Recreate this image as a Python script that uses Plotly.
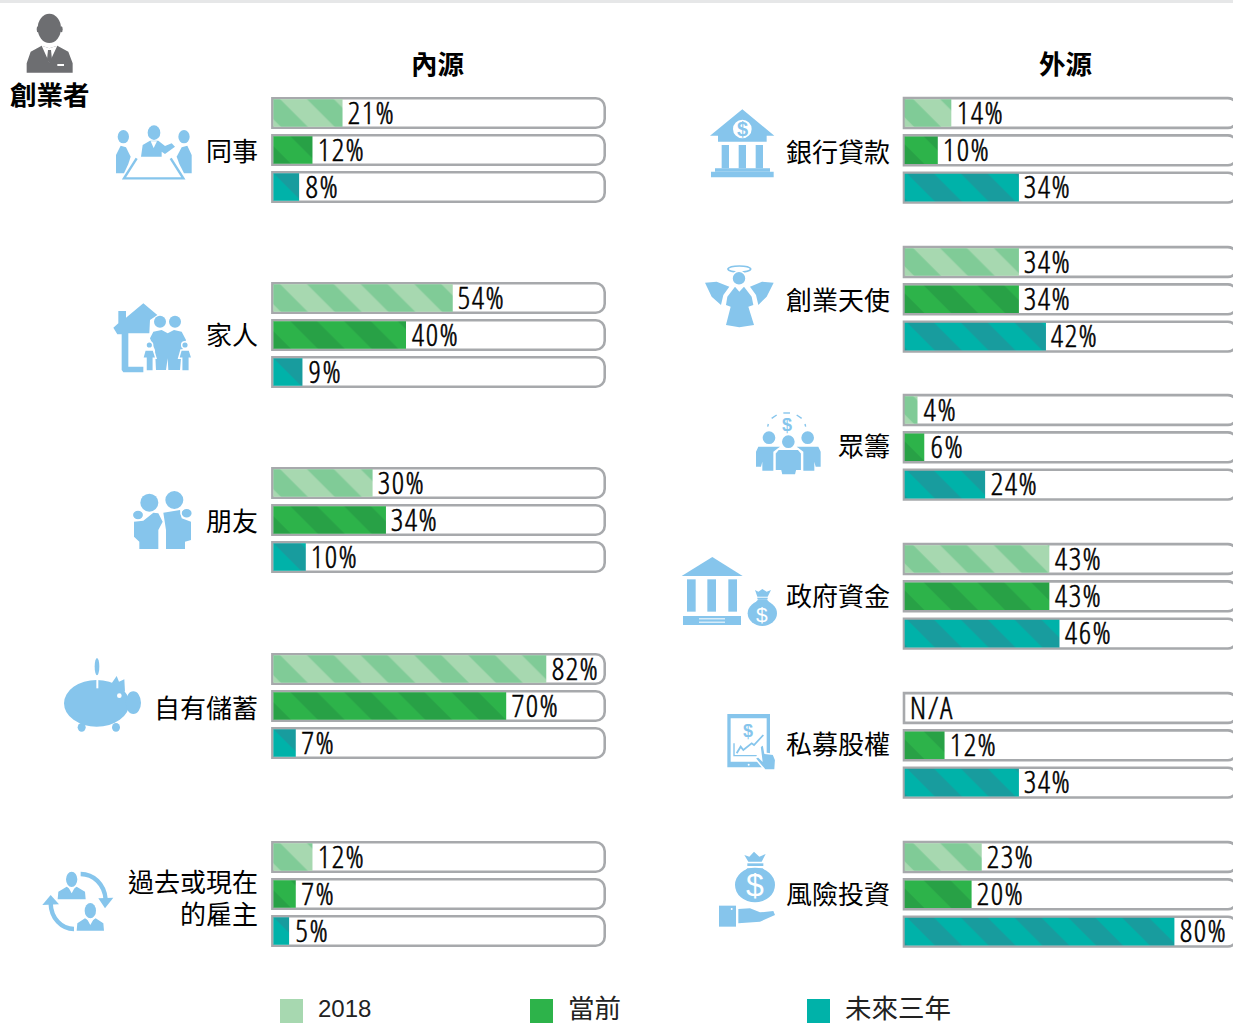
import plotly.graph_objects as go

W, H = 1233, 1023

SERIES = ["2018", "當前", "未來三年"]
LEFT_GROUPS = ["同事", "家人", "朋友", "自有儲蓄", "過去或現在<br>的雇主"]
LEFT_2018 = [21, 54, 30, 82, 12]
LEFT_NOW = [12, 40, 34, 70, 7]
LEFT_FUTURE = [8, 9, 10, 7, 5]
RIGHT_GROUPS = ["銀行貸款", "創業天使", "眾籌", "政府資金", "私募股權", "風險投資"]
RIGHT_2018 = [14, 34, 4, 43, None, 23]
RIGHT_NOW = [10, 34, 6, 43, 12, 20]
RIGHT_FUTURE = [34, 42, 24, 46, 34, 80]

BG = ["#a7d8b0", "#2db34a", "#00b2a9"]
FG = ["#80cb97", "#28a146", "#189c9e"]
TRACK = "#a7a9ac"
BLUE = "#86c5ec"
GREY = "#6d6e71"
CJK = "Liberation Sans, Noto Sans CJK TC"
VALUE_FONT = "Open Sans Condensed Light"

fig = go.Figure()
shapes, annos, layout = [], [], {}


def px(x):
    return x / W


def py(y):
    return 1 - y / H


def conv(ox, oy, pts, s=3.0):
    return [(px(ox + a / s), py(oy + b / s)) for a, b in pts]


def poly(ox, oy, pts, color=BLUE, halo=0, close=True):
    q = conv(ox, oy, pts)
    d = "M" + " L".join(f"{a:.5f},{b:.5f}" for a, b in q) + (" Z" if close else "")
    shapes.append(dict(type="path", xref="paper", yref="paper", path=d, fillcolor=color,
                       line=dict(color="white" if halo else color, width=halo if halo else 0), layer="above"))


def stroke(ox, oy, pts, w=2, color=BLUE, curve=False):
    q = conv(ox, oy, pts)
    if curve:
        d = f"M{q[0][0]:.5f},{q[0][1]:.5f} C" + " ".join(f"{a:.5f},{b:.5f}" for a, b in q[1:])
    else:
        d = "M" + " L".join(f"{a:.5f},{b:.5f}" for a, b in q)
    shapes.append(dict(type="path", xref="paper", yref="paper", path=d,
                       line=dict(color=color, width=w), layer="above"))


def ell(ox, oy, cx, cy, rx, ry=None, color=BLUE, halo=0):
    ry = rx if ry is None else ry
    x0, x1 = ox + (cx - rx) / 3, ox + (cx + rx) / 3
    y0, y1 = oy + (cy - ry) / 3, oy + (cy + ry) / 3
    shapes.append(dict(type="circle", xref="paper", yref="paper", x0=px(x0), x1=px(x1), y0=py(y0), y1=py(y1),
                       fillcolor=color, line=dict(color="white" if halo else color, width=halo if halo else 0),
                       layer="above"))


def rect(ox, oy, x0, y0, x1, y1, color=BLUE):
    poly(ox, oy, [(x0, y0), (x1, y0), (x1, y1), (x0, y1)], color)


def label(x, y, text, size=26, color="black", anchor="center", bold=False, family=CJK):
    annos.append(dict(xref="paper", yref="paper", x=px(x), y=py(y), text=f"<b>{text}</b>" if bold else text,
                      showarrow=False, xanchor=anchor, yanchor="middle", align=anchor if anchor != "center" else "center",
                      font=dict(family=family, size=size, color=color)))


def panel(groups, s18, snow, sfut, tops, pitch, dom_px, x0, scale, bar_base, track_end, name_x, name_ys, start):
    for g, top in enumerate(tops):
        k = start + g
        ax = "" if k == 1 else str(k)
        xa, ya = f"x{ax}", f"y{ax}"
        layout[f"xaxis{ax}"] = dict(domain=[dom_px[0] / W, min(dom_px[1] / W, 1)], anchor=ya, visible=False,
                                    range=[(dom_px[0] - x0) / scale, (dom_px[1] - x0) / scale], fixedrange=True)
        layout[f"yaxis{ax}"] = dict(domain=[py(top + 2.5 * pitch), py(top - 0.5 * pitch)], anchor=xa, visible=False,
                                    type="category", categoryorder="array", categoryarray=SERIES,
                                    range=[2.5, -0.5], fixedrange=True)
        vals = [s18[g], snow[g], sfut[g]]
        fig.add_trace(go.Bar(y=SERIES, x=[track_end] * 3, orientation="h", width=0.8, xaxis=xa, yaxis=ya,
                             marker=dict(color="white", line=dict(color=TRACK, width=2.6), cornerradius=9),
                             showlegend=False, hoverinfo="skip"))
        for i, s in enumerate(SERIES):
            v = vals[i]
            if v is not None:
                fig.add_trace(go.Bar(y=[s], x=[v - bar_base], base=bar_base, orientation="h", width=0.74, xaxis=xa, yaxis=ya,
                                     name=s, showlegend=False,
                                     marker=dict(color=BG[i], line=dict(width=0),
                                                 pattern=dict(shape="\\", size=38, solidity=0.5, fgcolor=FG[i], fgopacity=1))))
            annos.append(dict(xref=xa, yref=ya, x=v or 0, y=i, text="N/A" if v is None else f"{v}%", showarrow=False,
                              xanchor="left", yanchor="middle", xshift=5.5, yshift=1.5,
                              font=dict(family=VALUE_FONT, size=31, color="black")))
        parts = groups[g].split("<br>")
        for n, part in enumerate(parts):
            label(name_x, name_ys[g] + (n - (len(parts) - 1) / 2) * 32, part, anchor="right")


panel(LEFT_GROUPS, LEFT_2018, LEFT_NOW, LEFT_FUTURE, [113, 298, 483, 669, 857], 37, (262, 615), 272.4, 3.34, 0.3, 99.5,
      260, [152.5, 336.5, 521.5, 708.5, 899], 1)
panel(RIGHT_GROUPS, RIGHT_2018, RIGHT_NOW, RIGHT_FUTURE, [113, 262, 410, 559, 708, 857], 37.3, (895, 1233), 904, 3.38, 0.2, 98.5,
      892, [153.5, 301.5, 446.5, 596.5, 744.5, 894.5], 6)

# headings and legend
shapes.append(dict(type="rect", xref="paper", yref="paper", x0=0, x1=1, y0=py(3), y1=1, fillcolor="#e6e7e8", line=dict(width=0)))
label(437.5, 65, "內源", size=26.5, bold=True)
label(1066, 65, "外源", size=26.5, bold=True)
label(50, 96, "創業者", size=26.5, bold=True)
for x, tx, s, c in zip([280, 530, 807], [316, 566, 843], SERIES, BG):
    shapes.append(dict(type="rect", xref="paper", yref="paper", x0=px(x), x1=px(x + 23), y0=py(1023), y1=py(999),
                       fillcolor=c, line=dict(width=0)))
    label(tx, 1008.5, s, size=24 if s == "2018" else 26.5, color="#222222", anchor="left")

# founder
o = (0, 0)
ell(*o, 148, 85, 35, 44, GREY)
ell(*o, 114, 88, 4, 9, GREY)
ell(*o, 184, 88, 4, 9, GREY)
poly(*o, [(80, 218), (80, 190), (92, 155), (125, 137), (148, 145), (172, 137), (205, 155), (218, 190), (218, 218)], GREY)
poly(*o, [(125, 137), (148, 188), (172, 137), (148, 145)], "white")
poly(*o, [(144, 150), (153, 150), (156, 178), (148, 190), (141, 178)], GREY)
rect(*o, 172, 192, 192, 198, "white")

# colleagues
ell(*o, 462, 398, 19, 22)
poly(*o, [(423, 470), (428, 435), (450, 422), (475, 422), (495, 438), (515, 430), (525, 440), (495, 462), (485, 455), (485, 470)])
poly(*o, [(452, 424), (461, 444), (471, 424)], "white")
ell(*o, 370, 410, 17, 20)
poly(*o, [(348, 520), (348, 465), (362, 437), (378, 442), (392, 470), (385, 492), (372, 520)])
ell(*o, 552, 410, 17, 20)
poly(*o, [(575, 520), (575, 465), (562, 437), (545, 442), (530, 470), (538, 492), (552, 520)])
stroke(*o, [(410, 475), (372, 535), (550, 535), (512, 475)], w=2.4)

# family
o = (100, 295)
poly(*o, [(40, 98), (55, 85), (55, 48), (78, 48), (78, 68), (130, 25), (172, 60), (160, 68), (150, 75), (148, 115), (85, 115),
          (85, 215), (130, 215), (130, 232), (70, 232), (65, 225), (65, 118), (52, 118)])
ell(*o, 180, 80, 18)
ell(*o, 225, 80, 18)
poly(*o, [(150, 130), (160, 110), (185, 105), (203, 115), (222, 105), (245, 110), (258, 135), (245, 170), (240, 225), (205, 225),
          (203, 190), (198, 225), (168, 225), (165, 165)])
ell(*o, 148, 150, 10, halo=1.5)
poly(*o, [(135, 165), (160, 165), (168, 190), (160, 190), (160, 228), (138, 228), (138, 190), (128, 190)], halo=1.5)
ell(*o, 255, 150, 10, halo=1.5)
poly(*o, [(243, 165), (268, 165), (276, 190), (268, 190), (268, 228), (245, 228), (245, 190), (236, 190)], halo=1.5)

# friends
o = (120, 480)
ell(*o, 88, 68, 27)
ell(*o, 163, 60, 27)
poly(*o, [(42, 125), (70, 122), (100, 98), (115, 100), (128, 125), (115, 150), (115, 207), (58, 207), (58, 185), (42, 170)])
poly(*o, [(130, 98), (180, 90), (185, 115), (213, 125), (213, 180), (195, 185), (195, 207), (138, 207), (138, 150)])
ell(*o, 54, 105, 17, 15, halo=1.5)
ell(*o, 200, 100, 17, 15, halo=1.5)

# piggy bank
o = (55, 650)
ell(*o, 126, 50, 7, 26)
ell(*o, 125, 160, 98, 70)
ell(*o, 235, 158, 23, 34)
poly(*o, [(170, 100), (185, 78), (192, 95), (208, 88), (210, 125)])
ell(*o, 80, 232, 12, 13)
ell(*o, 183, 232, 12, 13)
ell(*o, 193, 137, 7, color="white")
rect(*o, 124, 88, 130, 115, "white")

# employers
o = (35, 860)
ell(*o, 110, 58, 17, 23)
poly(*o, [(68, 118), (70, 95), (95, 80), (110, 90), (125, 80), (150, 95), (152, 118)])
poly(*o, [(100, 82), (110, 100), (120, 82)], "white")
ell(*o, 166, 152, 17, 23)
poly(*o, [(125, 212), (127, 190), (150, 175), (166, 185), (182, 175), (205, 190), (207, 212)])
poly(*o, [(156, 177), (166, 195), (176, 177)], "white")
stroke(*o, [(137, 42), (175, 42), (208, 72), (212, 118)], w=4.4, curve=True)
poly(*o, [(190, 115), (235, 113), (210, 145)])
stroke(*o, [(117, 207), (80, 207), (48, 175), (47, 130)], w=4.4, curve=True)
poly(*o, [(22, 135), (47, 105), (72, 133)])

# bank
o = (700, 100)
poly(*o, [(30, 107), (127, 28), (223, 107), (200, 107), (200, 125), (54, 125), (54, 107)])
ell(*o, 127, 87, 28, color="white")
label(700 + 127 / 3, 100 + 87 / 3, "$", size=20, color=BLUE, bold=True, family="Liberation Sans")
for a in (65, 116, 167):
    rect(*o, a, 135, a + 22, 205)
rect(*o, 45, 205, 210, 215)
rect(*o, 33, 215, 221, 232)

# angel
stroke(*o, [(83, 507), (90, 495), (146, 495), (153, 507)], w=1.6, curve=True)
stroke(*o, [(83, 507), (90, 519), (146, 519), (153, 507)], w=1.6, curve=True)
ell(*o, 117, 535, 21, halo=1.5)
poly(*o, [(15, 548), (50, 545), (88, 560), (70, 585), (63, 615), (35, 590)])
poly(*o, [(221, 548), (186, 545), (150, 560), (168, 585), (175, 615), (200, 590)])
poly(*o, [(105, 560), (118, 575), (132, 560), (155, 590), (160, 615), (145, 620), (162, 675), (118, 682), (78, 675), (92, 620),
          (78, 615), (82, 590)])

# crowd
o = (675, 405)
label(675 + 335 / 3, 405 + 60 / 3, "$", size=18, color=BLUE, bold=True, family="Liberation Sans")
for seg in ([(278, 65), (280, 57)], [(290, 40), (305, 30)], [(325, 24), (345, 24)], [(365, 30), (380, 40)], [(390, 57), (392, 65)]):
    stroke(*o, seg, w=1.4)
ell(*o, 282, 98, 19)
ell(*o, 398, 98, 19)
poly(*o, [(243, 140), (250, 125), (315, 125), (295, 140), (295, 197), (262, 197), (262, 170), (258, 185), (243, 185)])
poly(*o, [(437, 140), (430, 125), (365, 125), (385, 140), (385, 197), (418, 197), (418, 170), (422, 185), (437, 185)])
ell(*o, 340, 110, 19)
poly(*o, [(300, 145), (310, 133), (370, 133), (380, 145), (380, 197), (365, 197), (362, 210), (320, 210), (317, 197), (300, 197)], halo=1.5)

# government
poly(*o, [(20, 513), (112, 456), (203, 513)])
for a in (36, 97, 160):
    rect(*o, a, 523, a + 26, 620)
rect(*o, 24, 633, 198, 660)
rect(*o, 72, 640, 150, 643, "white")
rect(*o, 72, 650, 150, 653, "white")
ell(*o, 262, 625, 44, 38)
poly(*o, [(250, 583), (275, 583), (295, 605), (230, 605)])
poly(*o, [(240, 555), (250, 560), (262, 552), (275, 560), (288, 555), (278, 575), (247, 575)])
rect(*o, 247, 578, 278, 583)
label(675 + 262 / 3, 405 + 628 / 3, "$", size=21, color="white", family="Liberation Sans")

# private equity
o = (710, 705)
rect(*o, 52, 27, 180, 187)
rect(*o, 62, 40, 170, 170, "white")
ell(*o, 116, 179, 3, color="white")
label(710 + 115 / 3, 705 + 78 / 3, "$", size=18, color=BLUE, bold=True, family="Liberation Sans")
stroke(*o, [(72, 115), (72, 152), (140, 152)], w=1.4)
stroke(*o, [(80, 145), (92, 125), (100, 135), (125, 115), (132, 120), (160, 90)], w=1.8)
poly(*o, [(150, 125), (160, 118), (165, 145), (190, 148), (197, 165), (195, 195), (165, 195), (135, 160), (145, 155), (155, 165)], halo=1.5)

# venture capital
ell(*o, 135, 540, 60, 52)
poly(*o, [(112, 490), (158, 490), (185, 515), (85, 515)])
rect(*o, 112, 475, 160, 483)
poly(*o, [(103, 450), (118, 455), (132, 440), (148, 455), (167, 447), (155, 470), (115, 470)])
label(710 + 135 / 3, 705 + 540 / 3, "$", size=32, color="white", family="Liberation Sans")
rect(*o, 27, 602, 78, 665)
ell(*o, 65, 612, 3, color="white")
poly(*o, [(85, 612), (120, 610), (150, 622), (190, 618), (195, 630), (150, 650), (85, 655)])

fig.update_layout(width=W, height=H, margin=dict(l=0, r=0, t=0, b=0), autosize=False, barmode="overlay", showlegend=False,
                  paper_bgcolor="white", plot_bgcolor="white", shapes=shapes, annotations=annos, **layout)
POST = """document.body.style.margin='0';document.body.style.overflow='hidden';
document.querySelectorAll('.annotation-text').forEach(function(t){
 if((t.style.fontFamily||'').indexOf('Condensed')>=0){t.style.letterSpacing='1.5px';t.style.stroke='black';t.style.strokeWidth='0.45px';}
});"""
fig.write_html("out.html", config={"displayModeBar": False}, post_script=POST)
